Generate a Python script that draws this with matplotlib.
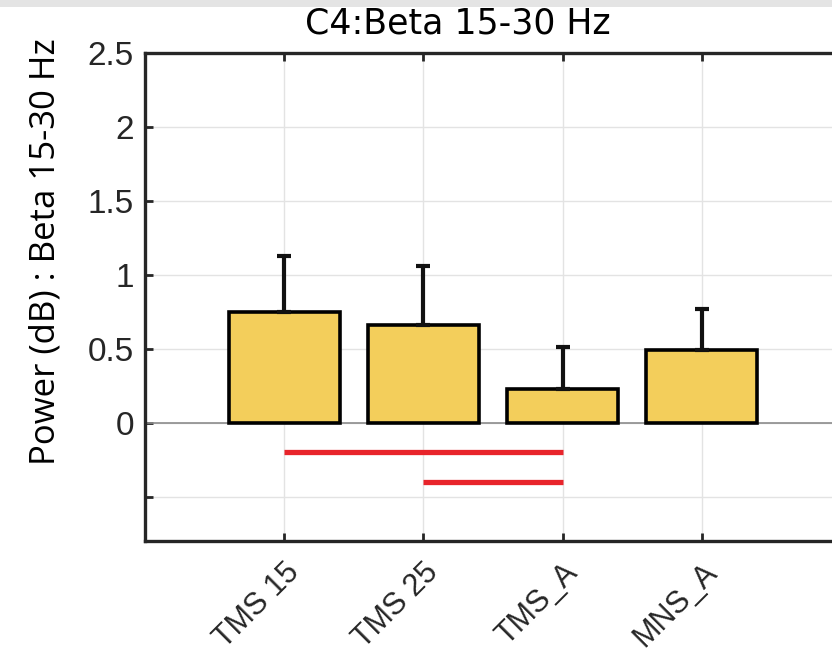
import matplotlib.pyplot as plt
from matplotlib.patches import Rectangle
import numpy as np

# data
conditions = ['TMS 15', 'TMS 25', 'TMS_A', 'MNS_A']
power_mean = [0.75, 0.66, 0.23, 0.49]
power_err = [0.38, 0.40, 0.28, 0.28]
# significance bars: (from, to, level)
sig_pairs = [(1, 3, -0.2), (2, 3, -0.4)]

ytick_vals = [-0.5, 0, 0.5, 1, 1.5, 2, 2.5]
ytick_txt = ['', '0', '0.5', '1', '1.5', '2', '2.5']

plt.rcParams['font.family'] = ['Liberation Sans', 'DejaVu Sans']

fig = plt.figure(figsize=(8.32, 6.56), dpi=100)
fig.patches.append(Rectangle((0, 1 - 7 / 656), 1, 7 / 656, transform=fig.transFigure,
                             facecolor='#e4e4e4', edgecolor='none'))
ax = fig.add_axes([145 / 832, 115 / 656, 696 / 832, 488 / 656])

x = np.arange(1, len(conditions) + 1)
ax.axhline(0, color='#8c8c8c', lw=1.2, zorder=1)
ax.bar(x, power_mean, width=0.8, color='#f3ce5b', edgecolor='black', linewidth=2.6, zorder=2)
ax.errorbar(x, power_mean, yerr=[np.zeros(len(x)), power_err], fmt='none',
            ecolor='#111111', elinewidth=3, capsize=5, capthick=3, zorder=3)

for a, b, lev in sig_pairs:
    ax.plot([a, b], [lev, lev], color='#e8242b', lw=3.8, solid_capstyle='butt', zorder=3)

ax.set_xlim(0, 5)
ax.set_ylim(-0.8, 2.5)
ax.set_xticks(x)
ax.set_xticklabels(conditions, rotation=45, ha='right', va='top', rotation_mode='anchor',
                   fontsize=22, color='#262626')
ax.set_yticks(ytick_vals)
ax.set_yticklabels(ytick_txt, fontsize=24, color='#262626')
ax.grid(True, color='#e3e3e3', lw=1)
ax.set_axisbelow(True)
ax.tick_params(direction='in', length=6, width=2, top=True, right=False, colors='#262626',
               labelcolor='#262626')
ax.tick_params(axis='x', pad=12)
ax.tick_params(axis='y', pad=8)
for s in ['left', 'bottom', 'top']:
    ax.spines[s].set_linewidth(2.4)
    ax.spines[s].set_color('#262626')
ax.spines['right'].set_visible(False)

ax.set_ylabel('Power (dB) : Beta 15-30 Hz', fontsize=25, family=['Open Sans', 'DejaVu Sans'])
ax.yaxis.set_label_coords(-0.119, 0.592)
fig.text(458 / 832, 1 - 24 / 656, 'C4:Beta 15-30 Hz', fontsize=25, ha='center', va='center',
         family=['Liberation Sans Narrow', 'DejaVu Sans Condensed', 'DejaVu Sans'])

fig.savefig('out.png', dpi=100)
